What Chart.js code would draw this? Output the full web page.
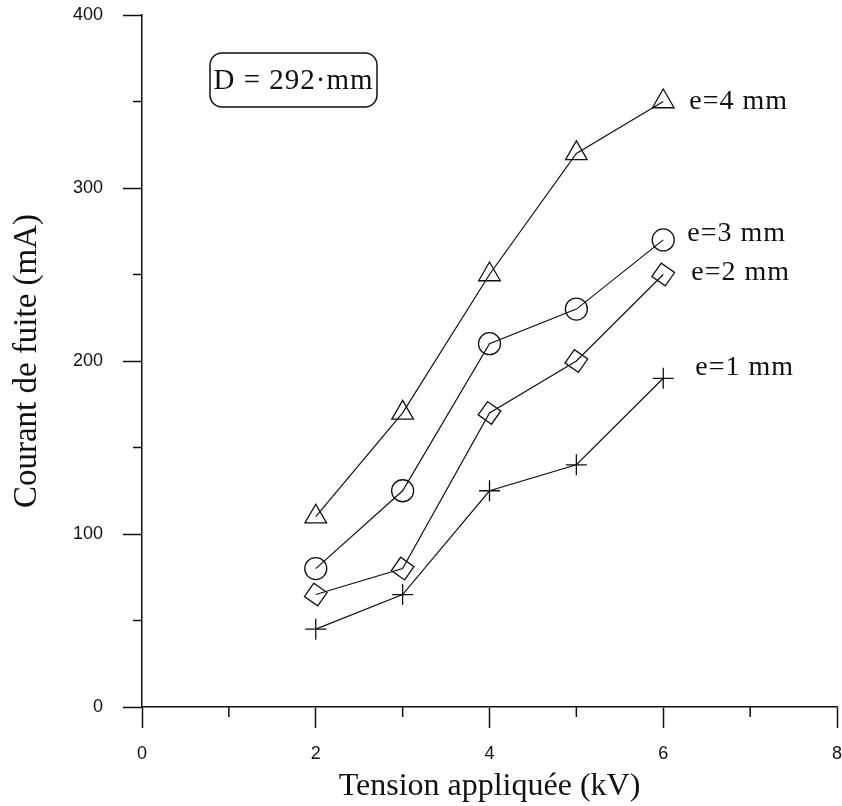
<!DOCTYPE html>
<html>
<head>
<meta charset="utf-8">
<title>Courant de fuite</title>
<script src="https://cdn.jsdelivr.net/npm/chart.js@4.4.1/dist/chart.umd.min.js"></script>
<style>
html, body { margin: 0; padding: 0; background: #fff; }
canvas { display: block; }
</style>
</head>
<body>
<canvas id="chart" width="842" height="806"></canvas>
<script>
// tension appliquée (kV)
const tension = [2, 3, 4, 5, 6];
// courant de fuite (mA), one array per thickness
const e1mm = [45, 65, 125, 140, 190];
const e2mm = [65, 80, 170, 200, 250];
const e3mm = [80, 125, 210, 230, 270];
const e4mm = [110, 170, 250, 320, 350];
const seriesNames = ['e=1 mm', 'e=2 mm', 'e=3 mm', 'e=4 mm'];
const xMinorTicks = [1, 3, 5, 7];
const yMinorTicks = [50, 150, 250, 350];
const noteText = 'D = 292·mm';

const ink = '#111';
const serif = '"Liberation Serif", "DejaVu Serif", serif';
const sans = '"Liberation Sans", Arial, sans-serif';

const toPoints = ys => tension.map((x, i) => ({ x, y: ys[i] }));

// marker + where the end label sits relative to the last point
const looks = [
	{ ys: e1mm, style: 'cross', radius: 10.5, rot: 0, dx: 32, dy: -11 },
	{ ys: e2mm, style: 'rectRot', radius: 11.5, rot: -10, dx: 28, dy: -2 },
	{ ys: e3mm, style: 'circle', radius: 11, rot: 0, dx: 24, dy: -6 },
	{ ys: e4mm, style: 'triangle', radius: 12.5, rot: 0, dx: 26, dy: 0 }
];

const datasets = looks.map((l, i) => ({
	label: seriesNames[i],
	data: toPoints(l.ys),
	showLine: true,
	borderColor: ink,
	borderWidth: 1.2,
	backgroundColor: 'transparent',
	pointStyle: l.style,
	pointRadius: l.radius,
	pointRotation: l.rot,
	pointBorderColor: ink,
	pointBackgroundColor: 'transparent',
	pointBorderWidth: 1.3,
	labelDx: l.dx,
	labelDy: l.dy
}));

const decor = {
	id: 'decor',
	afterDraw(chart) {
		const { ctx, chartArea } = chart,
			x = chart.scales.x,
			y = chart.scales.y;

		ctx.save();
		ctx.strokeStyle = ink;
		ctx.lineWidth = 1.5;

		// short minor ticks
		ctx.beginPath();
		xMinorTicks.forEach(v => {
			const px = x.getPixelForValue(v);
			ctx.moveTo(px, chartArea.bottom);
			ctx.lineTo(px, chartArea.bottom + 10);
		});
		yMinorTicks.forEach(v => {
			const py = y.getPixelForValue(v);
			ctx.moveTo(chartArea.left, py);
			ctx.lineTo(chartArea.left - 9, py);
		});
		ctx.stroke();

		// names next to the last point of each curve
		ctx.fillStyle = ink;
		ctx.font = '28px ' + serif;
		ctx.letterSpacing = '1px';
		ctx.textBaseline = 'middle';
		ctx.textAlign = 'left';
		chart.data.datasets.forEach((ds, i) => {
			const pt = chart.getDatasetMeta(i).data.at(-1);
			ctx.fillText(ds.label, pt.x + ds.labelDx, pt.y + ds.labelDy);
		});

		// framed note
		ctx.beginPath();
		ctx.roundRect(210, 53, 167, 54, 12);
		ctx.stroke();
		ctx.font = '29px ' + serif;
		ctx.textAlign = 'center';
		ctx.fillText(noteText, 293.5, 81);

		ctx.restore();
	}
};

const noPad = s => {
	s.paddingTop = 0;
	s.paddingBottom = 0;
	s.paddingLeft = 0;
	s.paddingRight = 0;
};

new Chart(document.getElementById('chart'), {
	type: 'scatter',
	data: { datasets },
	plugins: [decor],
	options: {
		responsive: false,
		animation: false,
		layout: { autoPadding: false, padding: { top: 15, right: 5, left: 0, bottom: 0 } },
		plugins: {
			legend: { display: false },
			tooltip: { enabled: false }
		},
		scales: {
			x: {
				type: 'linear',
				min: 0,
				max: 8,
				afterFit: s => { s.height = 99; noPad(s); },
				ticks: { stepSize: 2, padding: 15, color: ink, font: { family: sans, size: 18 }, maxRotation: 0 },
				grid: { drawOnChartArea: false, tickLength: 21, tickColor: ink, tickWidth: 1.5 },
				border: { display: true, color: ink, width: 1.5 },
				title: { display: true, text: 'Tension appliquée (kV)', color: ink, font: { family: serif, size: 32 }, padding: { top: 4, bottom: 0 } }
			},
			y: {
				min: 0,
				max: 400,
				afterFit: s => { s.width = 142; noPad(s); },
				ticks: { stepSize: 100, padding: 20, color: ink, font: { family: sans, size: 18 } },
				grid: { drawOnChartArea: false, tickLength: 19, tickColor: ink, tickWidth: 1.5 },
				border: { display: true, color: ink, width: 1.5 },
				title: { display: true, text: 'Courant de fuite (mA)', color: ink, font: { family: serif, size: 33 }, padding: { top: 8, bottom: 0 } }
			}
		}
	}
});
</script>
</body>
</html>
